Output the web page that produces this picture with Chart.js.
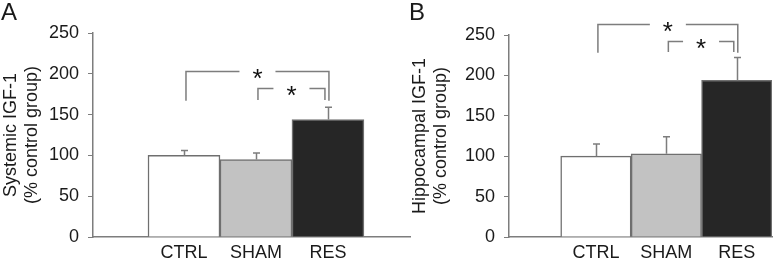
<!DOCTYPE html>
<html>
<head>
<meta charset="utf-8">
<script src="https://cdn.jsdelivr.net/npm/chart.js@4.4.1/dist/chart.umd.min.js"></script>
<style>
  html, body { margin: 0; padding: 0; background: #fff; }
  #wrap { position: relative; width: 779px; height: 260px; overflow: hidden; }
  canvas { position: absolute; top: 0; }
  #chartA { left: 0; }
  #chartB { left: 390px; }
</style>
</head>
<body>
<div id="wrap">
  <canvas id="chartA" width="420" height="260"></canvas>
  <canvas id="chartB" width="389" height="260"></canvas>
</div>
<script>
const categories = ['CTRL', 'SHAM', 'RES'];
const yTicks = [0, 50, 100, 150, 200, 250];

// panel A - systemic IGF-1 (% control)
const systemicMean = [100, 95, 144];
const systemicErr = [6, 8, 15];
const systemicSig = [
  { from: 0, to: 2, top: 203, bottom: 167 },
  { from: 1, to: 2, top: 182, bottom: 168 }
];

// panel B - hippocampal IGF-1 (% control)
const hippoMean = [100, 103, 194];
const hippoErr = [15, 21, 28];
const hippoSig = [
  { from: 0, to: 2, top: 263, bottom: 228 },
  { from: 1, to: 2, top: 243, bottom: 229 }
];

const FONT = "'Liberation Sans', Arial, sans-serif";
const GREY = '#7d7d7d';

const overlay = {
  id: 'overlay',
  afterDraw(chart, args, opts) {
    const ctx = chart.ctx;
    const x = chart.scales.x, y = chart.scales.y;
    ctx.save();
    ctx.strokeStyle = GREY;
    ctx.lineWidth = 1.5;
    // error bars (upper only)
    opts.errors.forEach((e, i) => {
      const px = Math.round(x.getPixelForValue(i + 1)) + 0.5;
      const y0 = y.getPixelForValue(opts.means[i]);
      const y1 = y.getPixelForValue(opts.means[i] + e);
      ctx.beginPath();
      ctx.moveTo(px, y0);
      ctx.lineTo(px, y1);
      ctx.moveTo(px - 3.5, y1);
      ctx.lineTo(px + 3.5, y1);
      ctx.stroke();
    });
    // significance brackets
    ctx.fillStyle = '#111';
    ctx.font = '26px ' + FONT;
    ctx.textAlign = 'center';
    ctx.textBaseline = 'alphabetic';
    opts.sig.forEach((b, k) => {
      const xl = x.getPixelForValue(b.from + 1) + 2;
      const xr = x.getPixelForValue(b.to + 1) + (k === 0 ? 1 : -3);
      const yt = Math.round(y.getPixelForValue(b.top)) + 0.5;
      const yb = y.getPixelForValue(b.bottom);
      const mid = (xl + xr) / 2;
      ctx.beginPath();
      ctx.moveTo(xl, yb);
      ctx.lineTo(xl, yt);
      ctx.lineTo(mid - 18, yt);
      ctx.moveTo(mid + 18, yt);
      ctx.lineTo(xr, yt);
      ctx.lineTo(xr, yb);
      ctx.stroke();
      ctx.fillText('*', mid, yt + 15);
    });
    // panel letter
    ctx.font = '24px ' + FONT;
    ctx.textAlign = 'left';
    ctx.fillStyle = '#1a1a1a';
    ctx.fillText(opts.letter, opts.letterX, 20);
    ctx.restore();
  }
};

function makePanel(id, means, errs, sig, title, cfg) {
  return new Chart(document.getElementById(id), {
    type: 'bar',
    plugins: [overlay],
    data: {
      datasets: [{
        data: categories.map((c, i) => ({ x: i + 1, y: means[i] })),
        backgroundColor: ['#ffffff', '#c2c2c2', '#262626'],
        borderColor: '#6f6f6f',
        borderWidth: 1.5,
        categoryPercentage: 1,
        barPercentage: 1
      }]
    },
    options: {
      responsive: false,
      animation: false,
      layout: { padding: { top: cfg.top, right: cfg.right, left: 0, bottom: 0 } },
      scales: {
        x: {
          type: 'linear',
          min: cfg.xmin,
          max: cfg.xmax,
          offset: false,
          afterBuildTicks: s => { s.ticks = categories.map((c, i) => ({ value: i + 1 })); },
          afterFit: s => { s.height = 23; },
          grid: { display: false, drawTicks: false, offset: false },
          border: { color: GREY, width: 1.5 },
          ticks: {
            padding: 5,
            color: '#1a1a1a',
            font: { family: FONT, size: 18 },
            callback: v => categories[v - 1] || ''
          }
        },
        y: {
          min: 0,
          max: 250,
          afterBuildTicks: s => { s.ticks = yTicks.map(v => ({ value: v })); },
          afterFit: s => { s.width = cfg.yWidth; },
          grid: { drawOnChartArea: false, tickLength: 5, color: GREY, lineWidth: 1 },
          border: { color: GREY, width: 1.5 },
          ticks: {
            padding: 9,
            color: '#1a1a1a',
            font: { family: FONT, size: 18 }
          },
          title: {
            display: true,
            text: title,
            color: '#1a1a1a',
            font: { family: FONT, size: 18 },
            padding: { top: cfg.titlePad, bottom: 0 }
          }
        }
      },
      plugins: {
        legend: { display: false },
        tooltip: { enabled: false },
        overlay: { means: means, errors: errs, sig: sig, letter: cfg.letter, letterX: cfg.letterX }
      }
    }
  });
}

makePanel('chartA', systemicMean, systemicErr, systemicSig,
  ['Systemic IGF-1', '(% control group)'],
  { top: 33, right: 10, xmin: -0.264, xmax: 4.14, yWidth: 93, titlePad: 0, letter: 'A', letterX: 1 });

makePanel('chartB', hippoMean, hippoErr, hippoSig,
  ['Hippocampal IGF-1', '(% control group)'],
  { top: 35, right: 7, xmin: -0.234, xmax: 3.5, yWidth: 119, titlePad: 19, letter: 'B', letterX: 19 });
</script>
</body>
</html>
